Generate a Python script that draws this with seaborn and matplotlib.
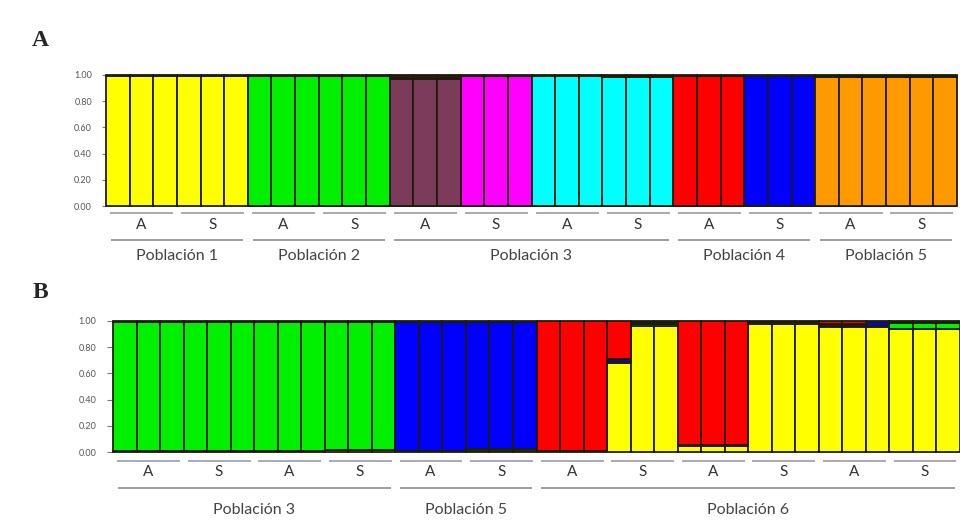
import numpy as np
import pandas as pd
import matplotlib
matplotlib.use("Agg")
import matplotlib.pyplot as plt
import seaborn as sns

sns.set_style("white")
plt.rcParams['font.family'] = ['Lato', 'DejaVu Sans']

# ---------------- Panel A data (K = 8) ----------------
a_clusters = ["yellow", "green", "purple", "magenta", "cyan", "red", "blue", "orange"]
a_colors = ["#FFFF00", "#00F000", "#7D3B5B", "#FF00FF", "#00FFFF", "#FF0000", "#0000FF", "#FF9900"]
# main cluster of each individual (36 individuals)
a_main = (["yellow"] * 6 + ["green"] * 6 + ["purple"] * 3 + ["magenta"] * 3 +
          ["cyan"] * 6 + ["red"] * 3 + ["blue"] * 3 + ["orange"] * 6)
a_main_q = [0.99, 0.99, 0.99, 0.99, 0.99, 0.99,
            0.99, 0.99, 0.99, 0.99, 0.99, 0.99,
            0.97, 0.97, 0.97,
            0.99, 0.99, 0.99,
            0.99, 0.99, 0.99, 0.985, 0.985, 0.985,
            0.99, 0.99, 0.99,
            0.995, 0.995, 0.995,
            0.985, 0.985, 0.985, 0.985, 0.985, 0.985]
a_groups = ["A", "S", "A", "S", "A", "S", "A", "S", "A", "S", "A", "S"]
a_pops = ["Población 1", "Población 2", "Población 3", "Población 4", "Población 5"]
a_pop_sizes = [6, 6, 12, 6, 6]

# ---------------- Panel B data (K = 4), bottom -> top ----------------
b_clusters = ["yellow", "green", "blue", "red"]
b_colors = ["#FFFF00", "#00F000", "#0000FF", "#FF0000"]
b_yellow = [0.01] * 9 + [0.015] * 3 + [0.005] * 3 + [0.01] * 3 + \
           [0.005] * 3 + [0.68, 0.965, 0.965] + [0.045] * 3 + [0.975] * 3 + [0.955] * 3 + [0.94] * 3
b_green = [0.98] * 9 + [0.975] * 3 + [0.005] * 3 + [0.01] * 3 + \
          [0.003] * 3 + [0.01, 0.01, 0.01] + [0.01] * 3 + [0.01] * 3 + [0.005] * 3 + [0.045] * 3
b_blue = [0.0] * 12 + [0.98] * 3 + [0.97] * 3 + \
         [0.002] * 3 + [0.02, 0.015, 0.015] + [0.0] * 3 + [0.005] * 3 + [0.015, 0.015, 0.035] + [0.005] * 3
b_red = [0.01] * 9 + [0.01] * 3 + [0.01] * 3 + [0.01] * 3 + \
        [0.99] * 3 + [0.29, 0.01, 0.01] + [0.945] * 3 + [0.01] * 3 + [0.025, 0.025, 0.005] + [0.01] * 3
b_groups = ["A", "S", "A", "S", "A", "S", "A", "S", "A", "S", "A", "S"]
b_pops = ["Población 3", "Población 5", "Población 6"]
b_pop_sizes = [12, 6, 18]

GROUP_SIZE = 3

# Build long-form tables
rows = []
for i, (m, q) in enumerate(zip(a_main, a_main_q)):
    rows.append((i, m, q))
    rows.append((i, "otros", 1 - q))
dfa = pd.DataFrame(rows, columns=["ind", "cluster", "q"])

rows = []
for i in range(len(b_yellow)):
    for c, vals in zip(b_clusters, [b_yellow, b_green, b_blue, b_red]):
        rows.append((i, c, vals[i]))
dfb = pd.DataFrame(rows, columns=["ind", "cluster", "q"])

fig = plt.figure(figsize=(9.6, 5.25), dpi=100)
axA = fig.add_axes([106 / 960, 1 - 206 / 525, 851 / 960, 131 / 525])
axB = fig.add_axes([113 / 960, 1 - 452 / 525, 847 / 960, 131 / 525])

EDGE = "#1c1c08"
LW = 1.3

# seaborn stacks the first hue level on top -> reverse bottom->top order
a_order = ["otros"] + a_clusters[::-1]
a_pal = dict(zip(a_clusters, a_colors))
a_pal["otros"] = "#2a1a10"
sns.histplot(data=dfa, x="ind", weights="q", hue="cluster", hue_order=a_order,
             multiple="stack", discrete=True, shrink=1, palette=a_pal, alpha=1,
             edgecolor=EDGE, linewidth=LW, legend=False, ax=axA)

b_order = b_clusters[::-1]
b_pal = dict(zip(b_clusters, b_colors))
sns.histplot(data=dfb, x="ind", weights="q", hue="cluster", hue_order=b_order,
             multiple="stack", discrete=True, shrink=1, palette=b_pal, alpha=1,
             edgecolor=EDGE, linewidth=LW, legend=False, ax=axB)


def style(ax, n, pad, tlen, groups, pops, pop_sizes, ys):
    ax.set_xlim(-0.5, n - 0.5)
    ax.set_ylim(0, 1)
    for p in ax.patches:
        p.set_clip_on(False)
    for s in ax.spines.values():
        s.set_visible(False)
    ax.set_xticks([])
    ax.set_yticks([0, 0.2, 0.4, 0.6, 0.8, 1.0])
    ax.set_yticklabels([f"{v:.2f}" for v in [0, 0.2, 0.4, 0.6, 0.8, 1.0]])
    ax.tick_params(axis="y", left=True, length=tlen, width=0.8, color="#777777",
                   labelsize=6.5, labelcolor="#555555", pad=pad)
    ax.set_xlabel("")
    ax.set_ylabel("")
    tr = ax.get_xaxis_transform()
    y_short, y_let, y_long, y_pop = ys
    for g, lab in enumerate(groups):
        x0 = g * GROUP_SIZE - 0.5
        x1 = x0 + GROUP_SIZE
        ax.plot([x0 + 0.18, x1 - 0.15], [y_short, y_short], transform=tr, clip_on=False,
                color="#a9a9bb", lw=1.4, solid_capstyle="butt")
        ax.text((x0 + x1) / 2, y_let, lab, transform=tr, ha="center", va="center",
                fontsize=11, color="#333333")
    start = -0.5
    for name, size in zip(pops, pop_sizes):
        x0, x1 = start, start + size
        ax.plot([x0 + 0.2, x1 - 0.2], [y_long, y_long], transform=tr, clip_on=False,
                color="#8c8c8c", lw=1.2, solid_capstyle="butt")
        ax.text((x0 + x1) / 2, y_pop, name, transform=tr, ha="center", va="center",
                fontsize=11.5, color="#444444")
        start = x1


style(axA, 36, 7, 3, a_groups, a_pops, a_pop_sizes, (-0.055, -0.145, -0.26, -0.385))
style(axB, 36, 8, 4, b_groups, b_pops, b_pop_sizes, (-0.068, -0.153, -0.275, -0.443))

fig.text(40 / 960, 1 - 40 / 525, "A", ha="center", va="center", fontsize=17,
         fontweight="bold", family=["Liberation Serif", "DejaVu Serif"])
fig.text(40 / 960, 1 - 293 / 525, "B", ha="center", va="center", fontsize=17,
         fontweight="bold", family=["Liberation Serif", "DejaVu Serif"])

fig.savefig("out.png", dpi=100, facecolor="white")
